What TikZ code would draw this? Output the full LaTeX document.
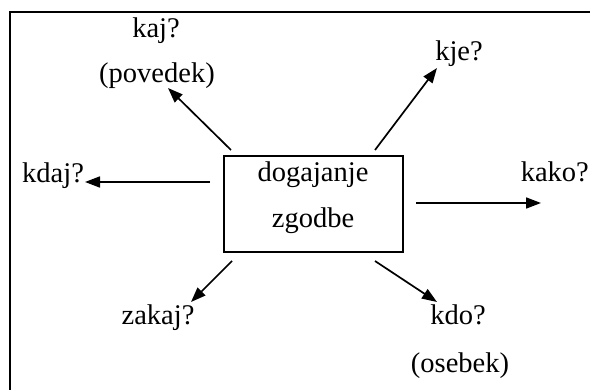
\documentclass[tikz,border=0pt]{standalone}
\usepackage{fontspec}
\setmainfont{Liberation Serif}
\usetikzlibrary{arrows.meta}
\begin{document}
\begin{tikzpicture}[x=1pt,y=-1pt,
  lbl/.style={inner sep=0pt,anchor=base,font=\fontsize{28.5}{34}\selectfont},
  arr/.style={line width=1.7pt,-{Triangle[length=15pt,width=11pt]}},
  mainbox/.style={draw,line width=2.3pt,minimum width=179pt,minimum height=96pt,inner sep=0pt}]
\useasboundingbox (0,0) rectangle (590,390);
\draw[line width=2.2pt] (10,391) -- (10,12) -- (591,12);
\node[mainbox] (box) at (313.5,204) {};
\node[lbl] (dog) at (313,182) {dogajanje};
\node[lbl] (zgo) at (313,228) {zgodbe};
\node[lbl] (kaj) at (156,38) {kaj?};
\node[lbl] (pov) at (157,83) {(povedek)};
\node[lbl,anchor=base west] (kdaj) at (22,183) {kdaj?};
\node[lbl] (kje) at (459,61) {kje?};
\node[lbl,anchor=base east] (kako) at (589,182) {kako?};
\node[lbl] (zakaj) at (158,325) {zakaj?};
\node[lbl] (kdo) at (458,325) {kdo?};
\node[lbl] (ose) at (460,373) {(osebek)};
\coordinate (s1) at (231,150); \coordinate (e1) at (168,88);
\coordinate (s2) at (210,182); \coordinate (e2) at (85,182);
\coordinate (s3) at (375,150); \coordinate (e3) at (437,68);
\coordinate (s4) at (416,203); \coordinate (e4) at (541,203);
\coordinate (s5) at (232,261); \coordinate (e5) at (191,302);
\coordinate (s6) at (375,261); \coordinate (e6) at (437,302);
\draw[arr] (s1) -- (e1);
\draw[arr] (s2) -- (e2);
\draw[arr] (s3) -- (e3);
\draw[arr] (s4) -- (e4);
\draw[arr] (s5) -- (e5);
\draw[arr] (s6) -- (e6);
\end{tikzpicture}
\end{document}
